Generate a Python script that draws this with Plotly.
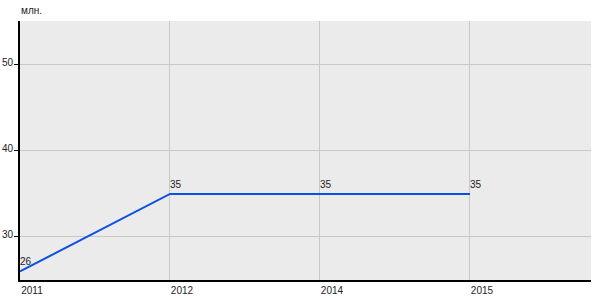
import plotly.graph_objects as go

years = ["2011", "2012", "2014", "2015"]
values = [26, 35, 35, 35]
labels = ["26", "35", "35", "35"]
y_ticks = [30, 40, 50]
unit_title = "млн."

FONT = "Liberation Sans, Arial, sans-serif"

fig = go.Figure()
fig.add_trace(go.Scatter(
    x=years, y=values, mode="lines",
    line=dict(color="#0d4fe0", width=2),
    cliponaxis=False, hoverinfo="skip",
))

annots = [dict(text=unit_title, x=0, xref="paper", xanchor="left", xshift=-1,
               y=1, yref="paper", yanchor="bottom", yshift=3, showarrow=False,
               font=dict(family=FONT, size=10, color="#222222"))]
for i, (yv, t) in enumerate(zip(values, labels)):
    annots.append(dict(text=t, x=i, y=yv, xref="x", yref="y", xanchor="left",
                       yanchor="bottom", xshift=-2, yshift=2, showarrow=False,
                       font=dict(family=FONT, size=10, color="#222222")))

fig.update_layout(
    width=600, height=300,
    margin=dict(l=20, r=9, t=21, b=20),
    paper_bgcolor="white", plot_bgcolor="#ebebeb",
    showlegend=False,
    font=dict(family=FONT, size=10, color="#222222"),
    annotations=annots,
)
fig.update_xaxes(
    type="category", range=[0, 3.807], automargin=False,
    showgrid=True, gridcolor="#c8c8c8", gridwidth=1,
    showline=True, linecolor="black", linewidth=2,
    ticks="", ticklabelshift=12, ticklabelstandoff=0,
    tickfont=dict(family=FONT, size=10),
    zeroline=False,
)
fig.update_yaxes(
    range=[25, 55.1], tickvals=y_ticks, automargin=False,
    showgrid=True, gridcolor="#c8c8c8", gridwidth=1,
    showline=True, linecolor="black", linewidth=2,
    ticks="outside", ticklen=4, tickcolor="black", tickwidth=1,
    tickfont=dict(family=FONT, size=10),
    zeroline=False, ticklabelstandoff=-1, ticklabelshift=-2,
)

fig.write_html("out.html")
